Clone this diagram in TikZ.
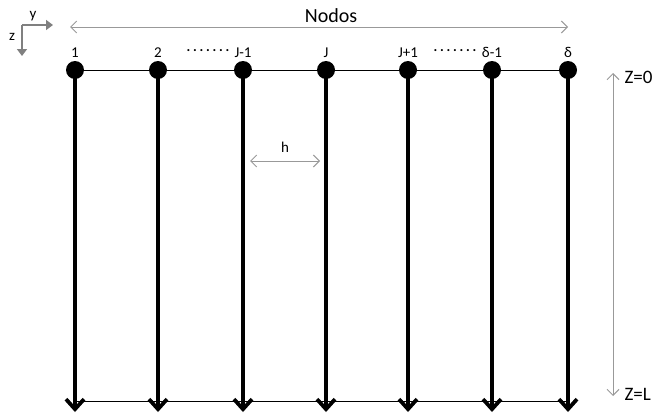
\documentclass[tikz,border=0pt]{standalone}
\usepackage{fontspec}
\setmainfont{Carlito}
\usetikzlibrary{arrows.meta}
\tikzset{>=latex}
\tikzset{nodo/.style={circle, fill=black, inner sep=0pt, minimum size=18pt}}
\tikzset{etiq/.style={font=\fontsize{15}{17}\selectfont, anchor=base}}
\tikzset{puntos/.style={font=\bfseries\fontsize{14}{16}\selectfont\addfontfeature{LetterSpace=20}, anchor=base}}
\tikzset{hilo/.style={line width=3.8pt, -{Straight Barb[length=10pt, width=18pt, line width=3.8pt]}}}
\tikzset{guia/.style={gray!80, line width=1pt, {Straight Barb[length=6pt, width=12pt]}-{Straight Barb[length=6pt, width=12pt]}}}

\begin{document}
\begin{tikzpicture}[x=1pt, y=-1pt]

\def \ztop {70}   % linea de nodos
\def \zbot {401}  % fondo

\useasboundingbox (0,0) rectangle (670,415);

% ejes
\coordinate (o) at (22,25);
\draw[gray, line width=2.5pt, -{Triangle[length=7pt, width=10pt]}] (o) -- (53,25);
\draw[gray, line width=2.5pt, -{Triangle[length=7pt, width=10pt]}] (o) -- (22,56);
\node[etiq] (ey) at (33,19) {y};
\node[etiq] (ez) at (12,41) {z};

% nodos
\node[nodo] (n1) at (75,\ztop) {};
\node[nodo] (n2) at (158,\ztop) {};
\node[nodo] (n3) at (243,\ztop) {};
\node[nodo] (n4) at (326,\ztop) {};
\node[nodo] (n5) at (408,\ztop) {};
\node[nodo] (n6) at (492,\ztop) {};
\node[nodo] (n7) at (568,\ztop) {};

\node[etiq] at (75,57) {1};
\node[etiq] at (158,57) {2};
\node[etiq] at (243,57) {J-1};
\node[etiq] at (326,57) {J};
\node[etiq] at (408,57) {J+1};
\node[etiq] at (492,57) {δ-1};
\node[etiq] at (568,57) {δ};
\node[puntos] at (208,51) {.......};
\node[puntos] at (455,51) {.......};

\draw[line width=1pt] (n1) -- (n7);
\draw[line width=1pt] (75,\zbot) -- (568,\zbot);

% hilos
\foreach \n/\x in {n1/75, n2/158, n3/243, n4/326, n5/408, n6/492, n7/568}
  \draw[hilo] (\n.center) -- (\x,412);

% cotas
\coordinate (na) at (70,27);
\coordinate (nb) at (568,27);
\draw[guia] (na) -- (nb);
\node[font=\fontsize{20}{22}\selectfont] (nodos) at (331,16) {Nodos};

\coordinate (ha) at (250,161);
\coordinate (hb) at (320,161);
\draw[guia] (ha) -- (hb);
\node[etiq] (h) at (285,152) {h};

\coordinate (za) at (613,73);
\coordinate (zb) at (613,396);
\draw[guia] (za) -- (zb);
\node[font=\fontsize{19}{21}\selectfont, anchor=west] (z0) at (621,77) {Z=0};
\node[font=\fontsize{19}{21}\selectfont, anchor=west] (zl) at (621,394) {Z=L};

\end{tikzpicture}
\end{document}
